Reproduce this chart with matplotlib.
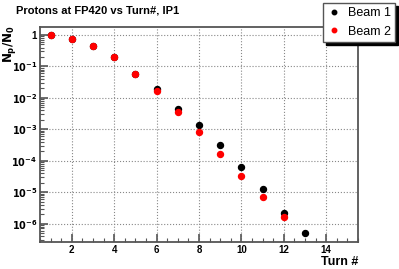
import numpy as np
import matplotlib
matplotlib.use("Agg")
import matplotlib.pyplot as plt
from matplotlib.ticker import FixedLocator, MultipleLocator, LogLocator, NullFormatter, FuncFormatter

# data
turns_b1 = [1, 2, 3, 4, 5, 6, 7, 8, 9, 10, 11, 12, 13]
beam1 = [1.0, 0.76, 0.45, 0.2, 0.057, 0.019, 0.0045, 1.35e-3, 3.1e-4, 6.3e-5, 1.3e-5, 2.2e-6, 5.1e-7]
turns_b2 = [1, 2, 3, 4, 5, 6, 7, 8, 9, 10, 11, 12]
beam2 = [1.0, 0.76, 0.45, 0.2, 0.057, 0.016, 0.0035, 8.5e-4, 1.6e-4, 3.2e-5, 6.8e-6, 1.6e-6]

xticks = [2, 4, 6, 8, 10, 12, 14]
yticks = [1e-6, 1e-5, 1e-4, 1e-3, 1e-2, 1e-1, 1]

plt.rcParams['font.family'] = ['Liberation Sans', 'DejaVu Sans']
plt.rcParams['font.weight'] = 'bold'
plt.rcParams['mathtext.default'] = 'bf'

fig = plt.figure(figsize=(3.99, 2.69), dpi=100)
ax = fig.add_axes([0.1003, 0.1004, 0.7967, 0.7992])

ax.plot(turns_b1, beam1, 'o', color='black', markersize=4.3, label='Beam 1')
ax.plot(turns_b2, beam2, 'o', color='red', markersize=4.3, label='Beam 2')

ax.set_yscale('log')
ax.set_xlim(0.5, 15.5)
ax.set_ylim(2.6e-7, 1.8)

ax.xaxis.set_major_locator(FixedLocator(xticks))
ax.xaxis.set_minor_locator(MultipleLocator(0.5))
ax.yaxis.set_major_locator(FixedLocator(yticks))
ax.yaxis.set_minor_locator(LogLocator(base=10, subs=np.arange(2, 10), numticks=20))
ax.yaxis.set_minor_formatter(NullFormatter())

def ylab(v, pos):
    e = int(round(np.log10(v)))
    if e == 0:
        return '1'
    return r'$10^{%d}$' % e

ax.yaxis.set_major_formatter(FuncFormatter(ylab))

ax.tick_params(which='both', direction='in', colors='#555555', labelcolor='black',
               labelsize=7, top=False, right=False)
ax.tick_params(which='major', length=6, width=1.2)
ax.tick_params(which='minor', length=3, width=0.8)
ax.tick_params(axis='y', which='major', pad=2)
ax.tick_params(axis='x', which='major', pad=2)

for s in ax.spines.values():
    s.set_color('#555555')
    s.set_linewidth(1.3)

ax.grid(True, which='major', linestyle=':', color='#888888', linewidth=0.8)

# axis titles placed like in ROOT
fig.text(358 / 399, 1 - 262 / 269, 'Turn #', fontsize=9, fontweight='bold',
         ha='right', va='center')
fig.text(9 / 399, 1 - 25 / 269, r'$N_p/N_0$', fontsize=8.5, rotation=90,
         ha='center', va='top')

fig.text(0.04, 0.96, 'Protons at FP420 vs Turn#, IP1', fontsize=8, fontweight='bold',
         va='center', ha='left')

fig.legend(loc='upper right', bbox_to_anchor=(0.99, 0.989),
           prop={'size': 9, 'weight': 'normal'},
           fancybox=False, edgecolor='#555555', framealpha=1,
           shadow={'color': 'black', 'alpha': 1}, handletextpad=0.6,
           handlelength=1.0, borderaxespad=0, borderpad=0.35, labelspacing=0.5,
           markerscale=0.75)

fig.savefig('out.png', dpi=100)
